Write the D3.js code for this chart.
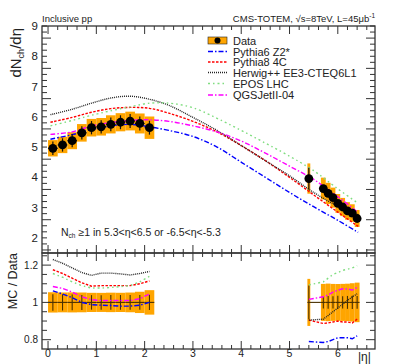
<!DOCTYPE html>
<html>
<head>
<meta charset="utf-8">
<script src="https://cdn.jsdelivr.net/npm/d3@7"></script>
<style>
  body { margin: 0; background: #fff; }
  svg { font-family: "Liberation Sans", Arial, sans-serif; }
</style>
</head>
<body>
<div id="chart"></div>
<script>
// data points (|eta| bin centres), values, stat and syst errors
var dataEta  = [0.1, 0.3, 0.5, 0.7, 0.9, 1.1, 1.3, 1.5, 1.7, 1.9, 2.1, 5.4, 5.7, 5.8, 5.9, 6.0, 6.1, 6.2, 6.3, 6.4]
var dataLo   = [0.0, 0.2, 0.4, 0.6, 0.8, 1.0, 1.2, 1.4, 1.6, 1.8, 2.0, 5.37, 5.65, 5.75, 5.85, 5.95, 6.05, 6.15, 6.25, 6.35]
var dataHi   = [0.2, 0.4, 0.6, 0.8, 1.0, 1.2, 1.4, 1.6, 1.8, 2.0, 2.2, 5.43, 5.75, 5.85, 5.95, 6.05, 6.15, 6.25, 6.35, 6.45]
var dataVal  = [4.96, 5.07, 5.21, 5.47, 5.64, 5.67, 5.75, 5.82, 5.86, 5.78, 5.64, 3.96, 3.63, 3.47, 3.33, 3.14, 3.02, 2.89, 2.82, 2.64]
var dataStat = [0.22, 0.22, 0.22, 0.22, 0.22, 0.22, 0.23, 0.23, 0.23, 0.23, 0.23, 0.36, 0.12, 0.12, 0.11, 0.11, 0.10, 0.10, 0.10, 0.09]
var dataSys  = [0.27, 0.27, 0.28, 0.29, 0.29, 0.29, 0.30, 0.30, 0.31, 0.33, 0.37, 0.50, 0.36, 0.35, 0.33, 0.31, 0.30, 0.29, 0.29, 0.28]

// MC predictions, top panel
var mcEta    = [0.05, 0.5, 0.9, 1.3, 1.7, 2.1, 2.5, 3.0, 3.5, 4.0, 4.5, 5.0, 5.5, 6.0, 6.42]
var pythia6  = [5.26, 5.41, 5.58, 5.70, 5.75, 5.67, 5.55, 5.35, 5.00, 4.50, 4.00, 3.50, 3.03, 2.58, 2.18]
var pythia8  = [5.82, 5.98, 6.15, 6.27, 6.31, 6.28, 6.12, 5.85, 5.50, 5.05, 4.55, 4.00, 3.42, 2.85, 2.38]
var herwig   = [6.07, 6.25, 6.45, 6.62, 6.68, 6.58, 6.38, 5.98, 5.55, 5.05, 4.55, 4.05, 3.50, 3.05, 2.77]
var epos     = [5.70, 5.88, 6.05, 6.20, 6.33, 6.45, 6.45, 6.30, 5.95, 5.55, 5.13, 4.70, 4.22, 3.62, 3.14]
var qgsjet   = [5.42, 5.50, 5.70, 5.81, 5.88, 5.90, 5.85, 5.70, 5.50, 5.20, 4.80, 4.37, 3.93, 3.36, 2.84]

// MC / Data ratios at data points
var ratioEtaL = [0.1, 0.3, 0.5, 0.7, 0.9, 1.1, 1.3, 1.5, 1.7, 1.9, 2.1]
var ratioEtaR = [5.4, 5.7, 5.8, 5.9, 6.0, 6.1, 6.2, 6.3, 6.4]
var rPythia6L = [1.062, 1.045, 1.025, 1.0, 0.988, 0.985, 0.983, 0.98, 0.98, 0.985, 1.0]
var rPythia6R = [0.79, 0.785, 0.79, 0.80, 0.81, 0.81, 0.81, 0.805, 0.82]
var rPythia8L = [1.175, 1.155, 1.13, 1.105, 1.087, 1.09, 1.09, 1.09, 1.09, 1.10, 1.115]
var rPythia8R = [0.905, 0.887, 0.89, 0.895, 0.90, 0.895, 0.895, 0.89, 0.91]
var rHerwigL  = [1.23, 1.21, 1.185, 1.16, 1.145, 1.157, 1.157, 1.153, 1.147, 1.155, 1.166]
var rHerwigR  = [0.905, 0.91, 0.93, 0.95, 0.97, 0.99, 1.01, 1.03, 1.046]
var rEposL    = [1.155, 1.135, 1.11, 1.09, 1.077, 1.077, 1.08, 1.085, 1.09, 1.11, 1.14]
var rEposR    = [1.094, 1.11, 1.13, 1.15, 1.16, 1.172, 1.178, 1.185, 1.197]
var rQgsjetL  = [1.085, 1.075, 1.055, 1.03, 1.015, 1.01, 1.01, 1.01, 1.01, 1.02, 1.045]
var rQgsjetR  = [1.016, 1.03, 1.04, 1.055, 1.065, 1.073, 1.072, 1.066, 1.08]

var legendLabels = ["Data", "Pythia6 Z2*", "Pythia8 4C", "Herwig++ EE3-CTEQ6L1", "EPOS LHC", "QGSJetII-04"]
var topTicks = [2, 3, 4, 5, 6, 7, 8, 9]
var ratioTicks = [0.8, 1, 1.2]
var xTicks = [0, 1, 2, 3, 4, 5, 6]

var W = 417, H = 364
var svg = d3.select("#chart").append("svg")
  .attr("width", W).attr("height", H)

var x = d3.scaleLinear().domain([-0.125, 6.77]).range([42, 375])
var yTop = d3.scaleLinear().domain([1.5, 9]).range([253, 26])
var yRat = d3.scaleLinear().domain([0.75, 1.265]).range([349, 253])

var orange = "#ffa500"
var models = [
  { name: legendLabels[1], top: pythia6, rl: rPythia6L, rr: rPythia6R, color: "#0000ff", dash: "5,2,1.5,2" },
  { name: legendLabels[2], top: pythia8, rl: rPythia8L, rr: rPythia8R, color: "#ff0000", dash: "2.5,1.5" },
  { name: legendLabels[3], top: herwig,  rl: rHerwigL,  rr: rHerwigR,  color: "#222222", dash: "1,1" },
  { name: legendLabels[4], top: epos,    rl: rEposL,    rr: rEposR,    color: "#80dd80", dash: "2,3,1.5,3" },
  { name: legendLabels[5], top: qgsjet,  rl: rQgsjetL,  rr: rQgsjetR,  color: "#ff00ff", dash: "5,2,1.5,2" }
]

// ---------- top panel ----------
var topG = svg.append("g")

// syst boxes
topG.selectAll("rect.sys").data(dataEta).enter().append("rect")
  .attr("x", function(d, i) { return x(dataLo[i]) })
  .attr("width", function(d, i) { return x(dataHi[i]) - x(dataLo[i]) })
  .attr("y", function(d, i) { return yTop(dataVal[i] + dataSys[i]) })
  .attr("height", function(d, i) { return yTop(dataVal[i] - dataSys[i]) - yTop(dataVal[i] + dataSys[i]) })
  .attr("fill", orange)

var lineTop = d3.line()
  .x(function(d, i) { return x(mcEta[i]) })
  .y(function(d) { return yTop(d) })
  .curve(d3.curveCatmullRom)

models.forEach(function(m) {
  topG.append("path").datum(m.top)
    .attr("d", lineTop)
    .attr("fill", "none")
    .attr("stroke", m.color)
    .attr("stroke-width", 1.4)
    .attr("stroke-dasharray", m.dash)
})

// stat error bars and points
topG.selectAll("line.ev").data(dataEta).enter().append("line")
  .attr("x1", function(d) { return x(d) }).attr("x2", function(d) { return x(d) })
  .attr("y1", function(d, i) { return yTop(dataVal[i] + dataStat[i]) })
  .attr("y2", function(d, i) { return yTop(dataVal[i] - dataStat[i]) })
  .attr("stroke", "#111").attr("stroke-width", 1.2)
topG.selectAll("line.eh").data(dataEta).enter().append("line")
  .attr("x1", function(d, i) { return x(dataLo[i]) }).attr("x2", function(d, i) { return x(dataHi[i]) })
  .attr("y1", function(d, i) { return yTop(dataVal[i]) })
  .attr("y2", function(d, i) { return yTop(dataVal[i]) })
  .attr("stroke", "#111").attr("stroke-width", 1.2)
topG.selectAll("circle").data(dataEta).enter().append("circle")
  .attr("cx", function(d) { return x(d) })
  .attr("cy", function(d, i) { return yTop(dataVal[i]) })
  .attr("r", 4.4)
  .attr("fill", "#000")

// ---------- ratio panel ----------
var ratG = svg.append("g")
ratG.selectAll("rect.rsys").data(dataEta).enter().append("rect")
  .attr("x", function(d, i) { return x(dataLo[i]) })
  .attr("width", function(d, i) { return x(dataHi[i]) - x(dataLo[i]) })
  .attr("y", function(d, i) { return yRat(1 + dataSys[i] / dataVal[i]) })
  .attr("height", function(d, i) { return yRat(1 - dataSys[i] / dataVal[i]) - yRat(1 + dataSys[i] / dataVal[i]) })
  .attr("fill", orange)

ratG.selectAll("line.rv").data(dataEta).enter().append("line")
  .attr("x1", function(d) { return x(d) }).attr("x2", function(d) { return x(d) })
  .attr("y1", function(d, i) { return yRat(1 + dataStat[i] / dataVal[i]) })
  .attr("y2", function(d, i) { return yRat(1 - dataStat[i] / dataVal[i]) })
  .attr("stroke", "#4a3000").attr("stroke-width", 1.1)
ratG.selectAll("line.rh").data(dataEta).enter().append("line")
  .attr("x1", function(d, i) { return x(dataLo[i]) })
  .attr("x2", function(d, i) { return i == 11 ? x(dataLo[i + 1]) : x(dataHi[i]) })
  .attr("y1", yRat(1)).attr("y2", yRat(1))
  .attr("stroke", "#4a3000").attr("stroke-width", 1.1)

var lineL = d3.line().x(function(d, i) { return x(ratioEtaL[i]) }).y(function(d) { return yRat(d) })
var lineR = d3.line().x(function(d, i) { return x(ratioEtaR[i]) }).y(function(d) { return yRat(d) })
models.forEach(function(m) {
  [[m.rl, lineL], [m.rr, lineR]].forEach(function(p) {
    ratG.append("path").datum(p[0])
      .attr("d", p[1])
      .attr("fill", "none")
      .attr("stroke", m.color)
      .attr("stroke-width", 1.4)
      .attr("stroke-dasharray", m.dash)
  })
})

// ---------- frames and ticks ----------
var frameColor = "#333"
function frame(y0, y1) {
  svg.append("rect")
    .attr("x", 42).attr("y", y0)
    .attr("width", 375 - 42).attr("height", y1 - y0)
    .attr("fill", "none").attr("stroke", frameColor).attr("stroke-width", 1.3)
}
frame(26, 253)
frame(253, 349)

function xTickMarks(yA, yB) {
  var minor = d3.range(0, 34).map(function(i) { return i * 0.2 }).filter(function(v) { return x(v) < 375 })
  minor.forEach(function(v) {
    var major = Math.abs(v - Math.round(v)) < 1e-6
    var len = major ? 8 : 4
    svg.append("line").attr("x1", x(v)).attr("x2", x(v)).attr("y1", yB).attr("y2", yB - len)
      .attr("stroke", frameColor).attr("stroke-width", 1)
    svg.append("line").attr("x1", x(v)).attr("x2", x(v)).attr("y1", yA).attr("y2", yA + len)
      .attr("stroke", frameColor).attr("stroke-width", 1)
  })
}
xTickMarks(26, 253)
xTickMarks(253, 349)

function yTickMarks(scale, lo, hi, step, majorEvery) {
  var n = Math.round((hi - lo) / step)
  for (var k = 0; k <= n; k++) {
    var v = lo + k * step
    var major = k % majorEvery == 0
    var len = major ? 9 : 5
    var yy = scale(v)
    svg.append("line").attr("x1", 42).attr("x2", 42 + len).attr("y1", yy).attr("y2", yy)
      .attr("stroke", frameColor).attr("stroke-width", 1)
    svg.append("line").attr("x1", 375).attr("x2", 375 - len).attr("y1", yy).attr("y2", yy)
      .attr("stroke", frameColor).attr("stroke-width", 1)
  }
}
yTickMarks(yTop, 1.6, 9, 0.2, 5)
yTickMarks(yRat, 0.8, 1.25, 0.05, 4)

// tick labels
svg.selectAll("text.yt").data(topTicks).enter().append("text")
  .attr("x", 38).attr("y", function(d) { return yTop(d) + 4 })
  .attr("text-anchor", "end").attr("font-size", 11.5).attr("fill", "#222")
  .text(function(d) { return d })
svg.selectAll("text.yr").data(ratioTicks).enter().append("text")
  .attr("x", 38).attr("y", function(d) { return yRat(d) + 3.5 })
  .attr("text-anchor", "end").attr("font-size", 10).attr("fill", "#222")
  .text(function(d) { return d })
svg.selectAll("text.xt").data(xTicks).enter().append("text")
  .attr("x", function(d) { return x(d) }).attr("y", 357)
  .attr("text-anchor", "middle").attr("font-size", 10.5).attr("fill", "#222")
  .text(function(d) { return d })

// axis titles
var yl = svg.append("text")
  .attr("transform", "translate(21,28) rotate(-90)")
  .attr("text-anchor", "end").attr("font-size", 15).attr("fill", "#222")
yl.append("tspan").text("dN")
yl.append("tspan").attr("font-size", 9).attr("dy", 3).text("ch")
yl.append("tspan").attr("dy", -3).text("/d\u03b7")

svg.append("text")
  .attr("transform", "translate(17,253) rotate(-90)")
  .attr("text-anchor", "end").attr("font-size", 12.5).attr("fill", "#222")
  .text("MC / Data")

svg.append("text").attr("x", 358).attr("y", 361).attr("font-size", 12).attr("fill", "#222").text("|\u03b7|")

// header texts
svg.append("text").attr("x", 42).attr("y", 22).attr("font-size", 9.5).attr("fill", "#222").text("Inclusive pp")
var hd = svg.append("text").attr("x", 375).attr("y", 22).attr("text-anchor", "end")
  .attr("font-size", 9.5).attr("fill", "#222")
hd.append("tspan").text("CMS-TOTEM, \u221as=8TeV, L=45\u03bcb")
hd.append("tspan").attr("font-size", 6.5).attr("dy", -4).text("-1")

// annotation
var an = svg.append("text").attr("x", 61).attr("y", 236).attr("font-size", 10.5).attr("fill", "#222")
an.append("tspan").text("N")
an.append("tspan").attr("font-size", 6.5).attr("dy", 2).text("ch")
an.append("tspan").attr("dy", -2).text(" \u22651 in 5.3<\u03b7<6.5 or -6.5<\u03b7<-5.3")

// ---------- legend ----------
var lg = svg.append("g")
var rowY = [40.5, 51.5, 62, 72.5, 83.5, 95]
lg.append("rect").attr("x", 208).attr("y", rowY[0] - 3.5).attr("width", 19).attr("height", 7).attr("fill", orange)
  .attr("stroke", "#222").attr("stroke-width", 0.6)
lg.append("circle").attr("cx", 217.5).attr("cy", rowY[0]).attr("r", 3).attr("fill", "#000")
models.forEach(function(m, i) {
  lg.append("line").attr("x1", 208).attr("x2", 227).attr("y1", rowY[i + 1]).attr("y2", rowY[i + 1])
    .attr("stroke", m.color).attr("stroke-width", 1.4).attr("stroke-dasharray", m.dash)
})
lg.selectAll("text").data(legendLabels).enter().append("text")
  .attr("x", 233).attr("y", function(d, i) { return rowY[i] + 4 })
  .attr("font-size", 11).attr("fill", "#222")
  .text(function(d) { return d })
</script>
</body>
</html>
